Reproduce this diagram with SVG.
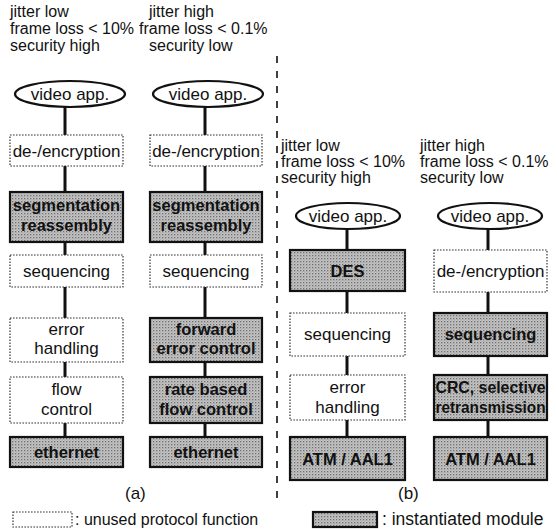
<svg xmlns="http://www.w3.org/2000/svg" width="557" height="529" viewBox="0 0 557 529">
  <defs>
    <!-- halftone fill for instantiated modules -->
    <pattern id="ht" width="3" height="3" patternUnits="userSpaceOnUse">
      <rect width="3" height="3" fill="#c4c4c4"/>
      <rect width="1.3" height="1.3" fill="#6e6e6e"/>
      <rect x="1.5" y="1.5" width="1" height="1" fill="#949494"/>
    </pattern>
    <style>
      text { font-family: "Liberation Sans", Arial, Helvetica, sans-serif; font-size: 16px; fill: #111; }
      .c { text-anchor: middle; }
      .n { font-size: 17px; }
      .b { font-weight: bold; font-size: 16.5px; }
      .u { fill: #fff; stroke: #333; stroke-width: 1.2; stroke-dasharray: 1.6 1.4; }
      .i { fill: url(#ht); stroke: #111; stroke-width: 2.2; }
      .app { fill: #fff; stroke: #111; stroke-width: 2.2; }
      #connectors line { stroke: #111; stroke-width: 3; }
      #divider { stroke: #111; stroke-width: 1.6; stroke-dasharray: 7 8; }
    </style>
  </defs>

  <!-- QoS requirement headers -->
  <g id="header-a1">
    <text x="10" y="17">jitter low</text>
    <text x="10" y="34">frame loss &lt; 10%</text>
    <text x="10" y="51">security high</text>
  </g>
  <g id="header-a2">
    <text x="149" y="17">jitter high</text>
    <text x="139" y="34">frame loss &lt; 0.1%</text>
    <text x="149" y="51">security low</text>
  </g>
  <g id="header-b1">
    <text x="281" y="151">jitter low</text>
    <text x="281" y="167">frame loss &lt; 10%</text>
    <text x="281" y="183">security high</text>
  </g>
  <g id="header-b2">
    <text x="420" y="151">jitter high</text>
    <text x="420" y="167">frame loss &lt; 0.1%</text>
    <text x="420" y="183">security low</text>
  </g>

  <!-- separator between (a) and (b) -->
  <line id="divider" x1="277" y1="56" x2="277" y2="500"/>

  <!-- connectors between protocol layers -->
  <g id="connectors">
    <line x1="65" y1="107" x2="65" y2="135"/>
    <line x1="65" y1="166" x2="65" y2="192"/>
    <line x1="65" y1="242" x2="65" y2="255"/>
    <line x1="65" y1="287" x2="65" y2="318"/>
    <line x1="65" y1="362" x2="65" y2="377"/>
    <line x1="65" y1="423" x2="65" y2="437"/>

    <line x1="205" y1="107" x2="205" y2="135"/>
    <line x1="205" y1="166" x2="205" y2="192"/>
    <line x1="205" y1="242" x2="205" y2="255"/>
    <line x1="205" y1="287" x2="205" y2="318"/>
    <line x1="205" y1="362" x2="205" y2="377"/>
    <line x1="205" y1="423" x2="205" y2="437"/>

    <line x1="347" y1="229" x2="347" y2="250"/>
    <line x1="347" y1="291" x2="347" y2="313"/>
    <line x1="347" y1="356" x2="347" y2="375"/>
    <line x1="347" y1="420" x2="347" y2="437"/>

    <line x1="488" y1="229" x2="488" y2="250"/>
    <line x1="488" y1="292" x2="488" y2="313"/>
    <line x1="488" y1="356" x2="488" y2="375"/>
    <line x1="488" y1="420" x2="488" y2="437"/>
  </g>

  <!-- (a) column 1 -->
  <g id="a1-app"><ellipse class="app" cx="70" cy="94" rx="55" ry="13"/><text class="c n" x="70" y="100">video app.</text></g>
  <g id="a1-crypt"><rect class="u" x="10" y="135" width="113" height="31"/><text class="c n" x="66.5" y="156.5">de-/encryption</text></g>
  <g id="a1-seg"><rect class="i" x="10" y="192" width="113" height="50"/><text class="c b" x="66.5" y="211">segmentation</text><text class="c b" x="66.5" y="231">reassembly</text></g>
  <g id="a1-seq"><rect class="u" x="10" y="255" width="113" height="32"/><text class="c n" x="66.5" y="277">sequencing</text></g>
  <g id="a1-err"><rect class="u" x="10" y="318" width="113" height="44"/><text class="c n" x="66.5" y="335">error</text><text class="c n" x="66.5" y="354">handling</text></g>
  <g id="a1-flow"><rect class="u" x="10" y="377" width="113" height="46"/><text class="c n" x="66.5" y="395">flow</text><text class="c n" x="66.5" y="415">control</text></g>
  <g id="a1-eth"><rect class="i" x="10" y="437" width="113" height="30"/><text class="c b" x="66.5" y="458">ethernet</text></g>

  <!-- (a) column 2 -->
  <g id="a2-app"><ellipse class="app" cx="208" cy="94" rx="55" ry="13"/><text class="c n" x="208" y="100">video app.</text></g>
  <g id="a2-crypt"><rect class="u" x="150" y="135" width="112" height="31"/><text class="c n" x="206" y="156.5">de-/encryption</text></g>
  <g id="a2-seg"><rect class="i" x="150" y="192" width="112" height="50"/><text class="c b" x="206" y="211">segmentation</text><text class="c b" x="206" y="231">reassembly</text></g>
  <g id="a2-seq"><rect class="u" x="150" y="255" width="112" height="32"/><text class="c n" x="206" y="277">sequencing</text></g>
  <g id="a2-fec"><rect class="i" x="150" y="318" width="112" height="44"/><text class="c b" x="206" y="335">forward</text><text class="c b" x="206" y="354">error control</text></g>
  <g id="a2-rate"><rect class="i" x="150" y="377" width="112" height="46"/><text class="c b" x="206" y="395">rate based</text><text class="c b" x="206" y="415">flow control</text></g>
  <g id="a2-eth"><rect class="i" x="150" y="437" width="112" height="30"/><text class="c b" x="206" y="458">ethernet</text></g>

  <!-- (b) column 1 -->
  <g id="b1-app"><ellipse class="app" cx="348" cy="216" rx="52" ry="13"/><text class="c n" x="348" y="222">video app.</text></g>
  <g id="b1-des"><rect class="i" x="290" y="250" width="115" height="41"/><text class="c b" x="347.5" y="276.5">DES</text></g>
  <g id="b1-seq"><rect class="u" x="290" y="313" width="115" height="43"/><text class="c n" x="347.5" y="340">sequencing</text></g>
  <g id="b1-err"><rect class="u" x="290" y="375" width="115" height="45"/><text class="c n" x="347.5" y="393">error</text><text class="c n" x="347.5" y="413">handling</text></g>
  <g id="b1-atm"><rect class="i" x="290" y="437" width="115" height="43"/><text class="c b" x="347.5" y="464.5">ATM / AAL1</text></g>

  <!-- (b) column 2 -->
  <g id="b2-app"><ellipse class="app" cx="490" cy="216" rx="52" ry="13"/><text class="c n" x="490" y="222">video app.</text></g>
  <g id="b2-crypt"><rect class="u" x="434" y="250" width="113" height="42"/><text class="c n" x="490.5" y="277">de-/encryption</text></g>
  <g id="b2-seq"><rect class="i" x="434" y="313" width="113" height="43"/><text class="c b" x="490.5" y="340">sequencing</text></g>
  <g id="b2-crc"><rect class="i" x="434" y="375" width="113" height="45"/><text class="c b" x="490.5" y="393" textLength="110" lengthAdjust="spacingAndGlyphs">CRC, selective</text><text class="c b" x="490.5" y="413" textLength="110" lengthAdjust="spacingAndGlyphs">retransmission</text></g>
  <g id="b2-atm"><rect class="i" x="434" y="437" width="113" height="43"/><text class="c b" x="490.5" y="464.5">ATM / AAL1</text></g>

  <!-- sub-figure labels -->
  <text class="n" x="125" y="499">(a)</text>
  <text class="n" x="398" y="499">(b)</text>

  <!-- legend -->
  <g id="legend-unused"><rect class="u" x="13" y="512" width="59" height="15"/><text x="75" y="525">: unused protocol function</text></g>
  <g id="legend-inst"><rect class="i" x="313" y="512" width="64" height="15"/><text x="382" y="525" style="font-size:17.5px">: instantiated module</text></g>
</svg>
